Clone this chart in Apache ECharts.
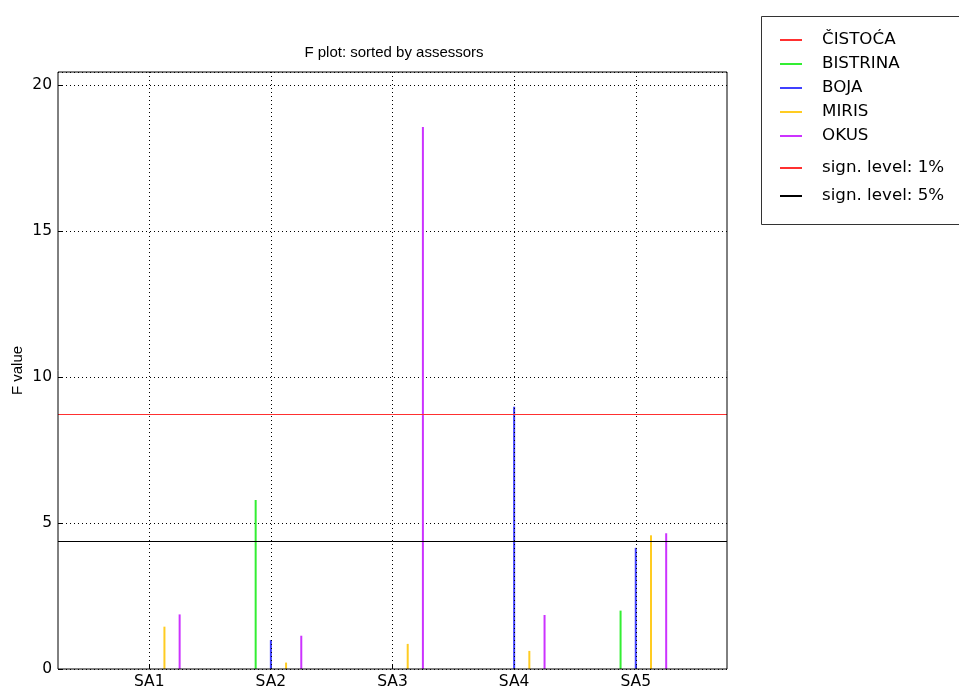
<!DOCTYPE html>
<html><head><meta charset="utf-8">
<script src="https://cdn.jsdelivr.net/npm/echarts@6/dist/echarts.min.js"></script>
<style>html,body{margin:0;padding:0;background:#fff}#c{width:959px;height:690px}</style>
</head><body><div id="c"></div>
<script>
const assessors = ['SA1','SA2','SA3','SA4','SA5'];
const attributes = ['ČISTOĆA','BISTRINA','BOJA','MIRIS','OKUS'];
const attrColors = ['#ff3030','#33ee33','#4040ff','#ffcc22','#cc33ff'];
const cistoca  = [0, 0, 0, 0, 0];
const bistrina = [0, 5.79, 0, 0, 2.0];
const boja     = [0, 0.99, 0, 8.98, 4.15];
const miris    = [1.45, 0.22, 0.86, 0.62, 4.58];
const okus     = [1.87, 1.14, 18.57, 1.85, 4.65];
const values = [cistoca, bistrina, boja, miris, okus];
const offsets = [-0.25, -0.125, 0, 0.125, 0.25];
const sign1 = 8.73, sign5 = 4.38;
const yTicks = [0, 5, 10, 15, 20];
const yMax = 20.45;

const FONT = 'DejaVu Sans';
const SANS = 'Liberation Sans';
const series = attributes.map((name, k) => ({
  name, type: 'custom', coordinateSystem: 'cartesian2d',
  itemStyle: {color: attrColors[k]},
  data: values[k].map((v, i) => [i + 1 + offsets[k], v]),
  renderItem: (params, api) => {
    const x = api.value(0), v = api.value(1);
    const p0 = api.coord([x, 0]), p1 = api.coord([x, v]);
    return {type: 'line', shape: {x1: p0[0], y1: p0[1], x2: p1[0], y2: p1[1]},
      style: {stroke: attrColors[k], lineWidth: 2}, z2: 5};
  }
}));
series.push({
  name: 'grid', type: 'line', data: [], silent: true,
  markLine: {silent: true, symbol: 'none', label: {show: false},
    lineStyle: {color: '#000', type: [1, 3], width: 1},
    data: assessors.map((a, i) => ({xAxis: i + 1}))}
});
series.push({
  name: 'sign. level: 1%', type: 'line', data: [], color: '#ff3030',
  itemStyle: {color: '#ff3030'}, lineStyle: {color: '#ff3030'},
  markLine: {silent: true, symbol: 'none', label: {show: false}, z: 10,
    lineStyle: {color: '#ff3030', type: 'solid', width: 1}, data: [{yAxis: sign1}]}
});
series.push({
  name: 'sign. level: 5%', type: 'line', data: [], color: '#000',
  itemStyle: {color: '#000'}, lineStyle: {color: '#000'},
  markLine: {silent: true, symbol: 'none', label: {show: false}, z: 10,
    lineStyle: {color: '#000', type: 'solid', width: 1}, data: [{yAxis: sign5}]}
});

const legendCommon = {
  orient: 'vertical', left: 780, padding: 0, icon: 'rect', itemWidth: 22, itemHeight: 2,
  selectedMode: false,
  textStyle: {fontFamily: FONT, fontSize: 16.7, color: '#000', padding: [0, 0, 0, 15]}
};

const chart = echarts.init(document.getElementById('c'), null, {renderer: 'canvas'});
chart.setOption({
  animation: false,
  backgroundColor: '#fff',
  title: {text: 'F plot: sorted by assessors', left: 389, textAlign: 'center', top: 40,
    textStyle: {fontFamily: SANS, fontSize: 15, fontWeight: 'normal', color: '#000'}},
  grid: {left: 58, top: 72, width: 669, height: 597, outerBoundsMode: 'none', containLabel: false,
    show: true, borderColor: '#000', borderWidth: 1, backgroundColor: 'transparent', z: 20},
  legend: [
    Object.assign({}, legendCommon, {top: 31.5, itemGap: 7, data: attributes}),
    Object.assign({}, legendCommon, {top: 159.5, itemGap: 11, data: ['sign. level: 1%', 'sign. level: 5%']})
  ],
  graphic: [{type: 'rect', left: 759, top: 14, shape: {width: 210, height: 208},
    style: {fill: 'none', stroke: '#333', lineWidth: 1}, z: -1}],
  xAxis: {type: 'value', min: 0.25, max: 5.75,
    axisLine: {show: false},
    axisTick: {show: true, inside: true, length: 5, customValues: [1, 2, 3, 4, 5], lineStyle: {color: '#000'}},
    axisLabel: {customValues: [1, 2, 3, 4, 5], formatter: v => assessors[Math.round(v) - 1] || '',
      fontFamily: FONT, fontSize: 15.5, color: '#000', margin: 5},
    splitLine: {show: false}},
  yAxis: {type: 'value', min: 0, max: yMax, interval: 5,
    name: 'F value', nameLocation: 'middle', nameGap: 33, nameMoveOverlap: false,
    nameTextStyle: {fontFamily: SANS, fontSize: 15, color: '#000'},
    axisLine: {show: false},
    axisTick: {show: true, inside: true, length: 5, lineStyle: {color: '#000'}},
    axisLabel: {showMaxLabel: false, formatter: v => yTicks.includes(v) ? String(v) : '',
      fontFamily: FONT, fontSize: 15.5, color: '#000', margin: 6},
    splitLine: {show: true, lineStyle: {color: '#000', type: [1, 3], width: 1}}},
  series
});
</script></body></html>
